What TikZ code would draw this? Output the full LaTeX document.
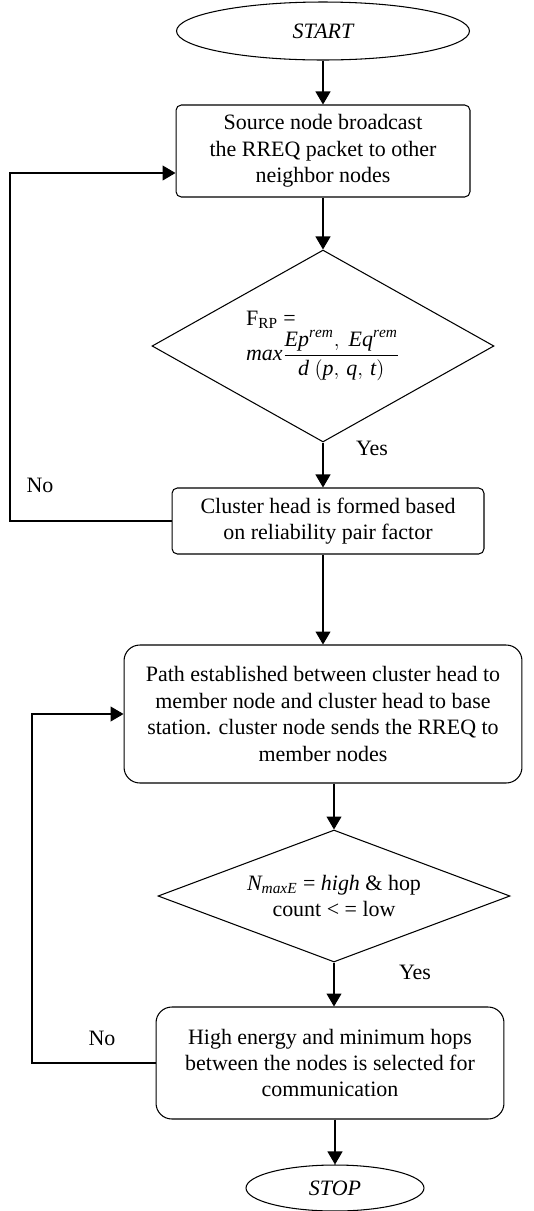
\documentclass[tikz,border=0pt]{standalone}
\usepackage{fontspec}
\setmainfont{Liberation Serif}
\usepackage{amsmath}
\usetikzlibrary{shapes.geometric,arrows.meta}

\begin{document}
\begin{tikzpicture}[
            x=0.02cm, y=-0.02cm,
            line width=0.6pt,
            every node/.style={font=\fontsize{12.5}{15}\selectfont},
            term/.style={ellipse, draw, inner sep=0pt, font=\fontsize{12.5}{15}\selectfont\itshape},
            proc/.style={rectangle, draw, rounded corners=3pt, align=center, inner sep=2pt},
            decide/.style={diamond, draw, align=center, inner sep=0pt, aspect=2},
            arr/.style={-{Triangle[length=0.26cm, width=0.3cm]}}
        ]
            \useasboundingbox (0,0) rectangle (534,1211);

            % Steps
            \node[term, minimum width=5.86cm, minimum height=1.16cm] (start) at (323,31) {START};
            \node[proc, minimum width=5.88cm, minimum height=1.84cm] (bcast) at (323,151) {Source node broadcast\\the RREQ packet to other\\neighbor nodes};
            \node[decide, minimum width=6.84cm, minimum height=3.84cm, align=left] (frp) at (323,346) {F\textsubscript{RP} =\\$\mathit{max}\dfrac{\mathit{Ep}^{\mathit{rem}},\ \mathit{Eq}^{\mathit{rem}}}{\mathit{d}\ (\mathit{p},\,\mathit{q},\,\mathit{t})}$};
            \node[proc, minimum width=6.24cm, minimum height=1.32cm] (chead) at (328,521) {Cluster head is formed based\\on reliability pair factor};
            \node[proc, rounded corners=9pt, minimum width=7.96cm, minimum height=2.76cm] (route) at (323,714) {Path established between cluster head to\\member node and cluster head to base\\station. cluster node sends the RREQ to\\member nodes};
            \node[decide, minimum width=7.04cm, minimum height=2.64cm] (hop) at (334,896) {\textit{N\textsubscript{maxE}} = \textit{high} \& hop\\count < = low};
            \node[proc, rounded corners=9pt, minimum width=6.96cm, minimum height=2.24cm] (select) at (330,1063) {High energy and minimum hops\\between the nodes is selected for\\communication};
            \node[term, minimum width=3.56cm, minimum height=0.92cm] (stop) at (335,1188) {STOP};

            % Labels
            \node (yes1) at (372,448) {Yes};
            \node (no1) at (40,485) {No};
            \node (yes2) at (415,972) {Yes};
            \node (no2) at (102,1038) {No};

            % Arrows
            \draw[arr] (start) -- (bcast);
            \draw[arr] (bcast) -- (frp);
            \draw[arr] (frp.south) -- (frp.south |- chead.north);
            \draw[arr] (route.north |- chead.south) -- (route.north);
            \draw[arr] (hop.north |- route.south) -- (hop.north);
            \draw[arr] (hop.south) -- (hop.south |- select.north);
            \draw[arr] (select.south -| stop.north) -- (stop.north);

            % Loops back
            \coordinate (back1) at (10,173);
            \coordinate (back2) at (32,714);
            \draw[arr] (chead.west) -| (back1) -- (back1 -| bcast.west);
            \draw[arr] (select.west) -| (back2) -- (route.west);
        \end{tikzpicture}
\end{document}
